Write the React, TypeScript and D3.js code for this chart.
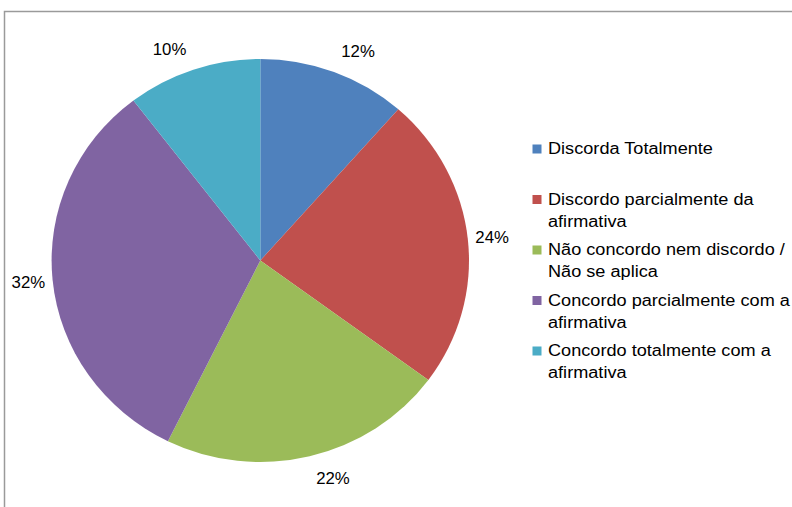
import React from "react";
import * as d3 from "d3";

const categories = [
  "Discorda Totalmente",
  "Discordo parcialmente da afirmativa",
  "Não concordo nem discordo / Não se aplica",
  "Concordo parcialmente com a afirmativa",
  "Concordo totalmente com a afirmativa",
];
const legendLines = [
  ["Discorda Totalmente"],
  ["Discordo parcialmente da", "afirmativa"],
  ["Não concordo nem discordo /", "Não se aplica"],
  ["Concordo parcialmente com a", "afirmativa"],
  ["Concordo totalmente com a", "afirmativa"],
];
const values = [11.5, 23.6, 22.2, 32.3, 10.4];
const labels = ["12%", "24%", "22%", "32%", "10%"];
const colors = ["#4F81BD", "#C0504D", "#9BBB59", "#8064A2", "#4BACC6"];

const W = 792;
const H = 507;
const cx = 260.3;
const cy = 260.5;
const rx = 208.7;
const ry = 201.5;

export default function App() {
  const pie = d3.pie<number>().sort(null).value((d) => d)(values);
  const arc = d3.arc<d3.PieArcDatum<number>>().innerRadius(0).outerRadius(ry);
  const sx = rx / ry;
  const font = "'Liberation Sans', Arial, sans-serif";

  const legendY = d3.scaleLinear().domain([0, 4]).range([154, 356]);

  return (
    <svg
      width={W}
      height={H}
      style={{ position: "absolute", left: 0, top: 0, display: "block", background: "#fff" }}
    >
      <rect x={0} y={0} width={W} height={H} fill="#fff" />
      <rect x={4.5} y={11.5} width={900} height={700} fill="none" stroke="#9a9a9a" strokeWidth={1.5} />
      <g transform={`translate(${cx},${cy}) scale(${sx},1)`}>
        {pie.map((p, i) => (
          <path key={i} d={arc(p) || ""} fill={colors[i]} />
        ))}
      </g>
      {pie.map((p, i) => {
        const a = (p.startAngle + p.endAngle) / 2;
        const s = Math.sin(a);
        const c = Math.cos(a);
        const x = cx + (rx + 7) * s + Math.sign(s) * 5 * Math.abs(c);
        const y = cy - (ry + 16) * c - c * 6 + 6;
        return (
          <text
            key={i}
            transform={`translate(${x},${y}) scale(1.03,1)`}
            textAnchor={s >= 0 ? "start" : "end"}
            fontFamily={font}
            fontSize={16.3}
            fill="#000"
          >
            {labels[i]}
          </text>
        );
      })}
      {categories.map((cat, i) => {
        const by = legendY(i);
        return (
          <g key={cat}>
            <rect x={532.5} y={by - 9.5} width={9} height={9} fill={colors[i]} />
            {legendLines[i].map((ln, j) => (
              <text
                key={j}
                transform={`translate(548,${by + j * 22}) scale(1.12,1)`}
                fontFamily={font}
                fontSize={16.2}
                fill="#000"
              >
                {ln}
              </text>
            ))}
          </g>
        );
      })}
    </svg>
  );
}
